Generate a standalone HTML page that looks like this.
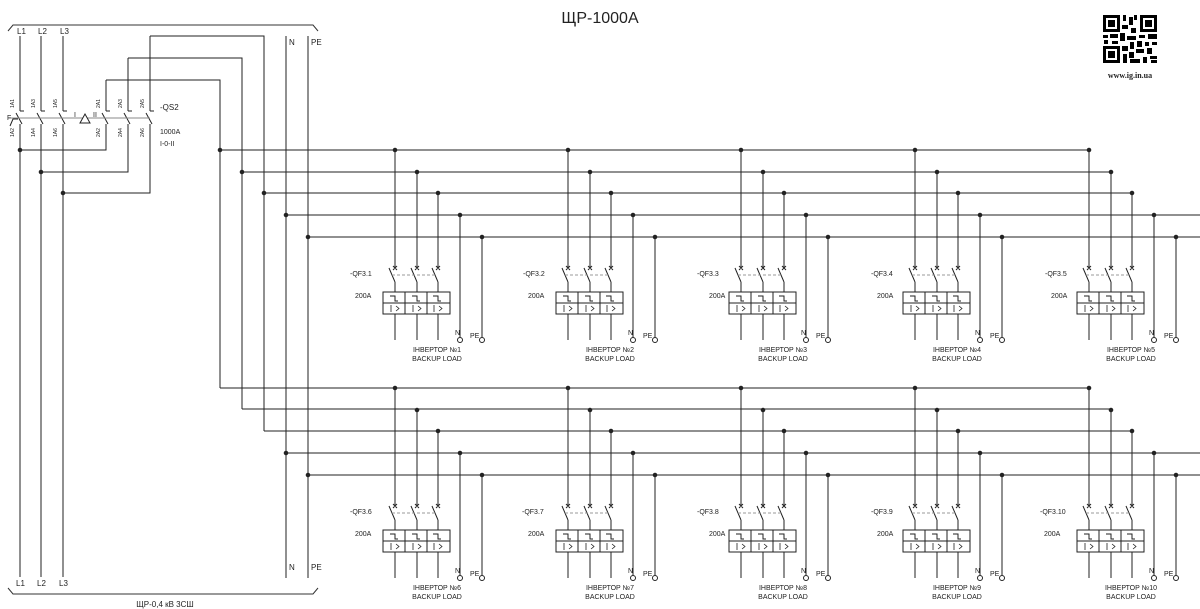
<!DOCTYPE html>
<html><head><meta charset="utf-8"><style>
body{margin:0;background:#fff}
svg{display:block}
text{font-family:"Liberation Sans",sans-serif;fill:#222}
</style></head><body>
<svg width="1200" height="609" viewBox="0 0 1200 609" xmlns="http://www.w3.org/2000/svg">
<defs>
<g id="grp" stroke="#222" stroke-width="1" fill="none">
  <line x1="0" y1="150" x2="0" y2="267"/>
  <line x1="22" y1="172" x2="22" y2="267"/>
  <line x1="43" y1="193" x2="43" y2="267"/>
  <line x1="65" y1="215" x2="65" y2="337"/>
  <line x1="87" y1="237" x2="87" y2="337"/>
  <circle cx="0" cy="150" r="1.8" fill="#222"/>
  <circle cx="22" cy="172" r="1.8" fill="#222"/>
  <circle cx="43" cy="193" r="1.8" fill="#222"/>
  <circle cx="65" cy="215" r="1.8" fill="#222"/>
  <circle cx="87" cy="237" r="1.8" fill="#222"/>
  <path d="M-2,266 l4,4 M2,266 l-4,4 M20,266 l4,4 M24,266 l-4,4 M41,266 l4,4 M45,266 l-4,4"/>
  <path d="M-6,268 L0,282 M16,268 L22,282 M37,268 L43,282"/>
  <line x1="-3" y1="275" x2="40" y2="275" stroke="#999" stroke-dasharray="3,2"/>
  <path d="M0,282 V292 M22,282 V292 M43,282 V292"/>
  <rect x="-12" y="292" width="67" height="22"/>
  <line x1="-12" y1="303" x2="55" y2="303"/>
  <line x1="10" y1="292" x2="10" y2="314"/>
  <line x1="32" y1="292" x2="32" y2="314"/>
  <path d="M-5,296 h5 v5 h3 M17,296 h5 v5 h3 M38,296 h5 v5 h3"/>
  <path d="M-4,305 v7 M1,306 l3,2.5 l-3,2.5 M18,305 v7 M23,306 l3,2.5 l-3,2.5 M39,305 v7 M44,306 l3,2.5 l-3,2.5" stroke-width="0.8"/>
  <path d="M0,314 V340 M22,314 V340 M43,314 V340"/>
  <circle cx="65" cy="340" r="2.5" fill="#fff"/>
  <circle cx="87" cy="340" r="2.5" fill="#fff"/>
</g>
</defs>

<!-- title -->
<text x="600" y="23" font-size="16" text-anchor="middle">ЩР-1000А</text>

<!-- brackets -->
<g stroke="#333" fill="none" stroke-width="1">
<path d="M8,31 L13,25 H313 L318,31"/>
<path d="M8,588 L13,594 H313 L318,588"/>
</g>
<text x="165" y="607" font-size="8" text-anchor="middle">ЩР-0,4 кВ 3СШ</text>

<!-- main verticals -->
<g stroke="#222" stroke-width="1" fill="none">
<line x1="20" y1="36" x2="20" y2="111"/><line x1="20" y1="111" x2="24" y2="111"/>
<line x1="41" y1="36" x2="41" y2="111"/><line x1="41" y1="111" x2="45" y2="111"/>
<line x1="63" y1="36" x2="63" y2="111"/><line x1="63" y1="111" x2="67" y2="111"/>
<line x1="106" y1="80" x2="106" y2="111"/><line x1="106" y1="111" x2="110" y2="111"/>
<line x1="128" y1="58" x2="128" y2="111"/><line x1="128" y1="111" x2="132" y2="111"/>
<line x1="150" y1="36" x2="150" y2="111"/><line x1="150" y1="111" x2="154" y2="111"/>
<path d="M16,113 L22,124 M37,113 L43,124 M59,113 L65,124 M102,113 L108,124 M124,113 L130,124 M146,113 L152,124"/>
<path d="M20,124 V577 M41,124 V577 M63,124 V577"/>
<path d="M106,124 V150 H20 M128,124 V172 H41 M150,124 V193 H63"/>
<line x1="8" y1="118" x2="150" y2="118" stroke="#888"/>
<path d="M80,123 L85,114 L90,123 Z" fill="#fff"/>
<path d="M10,126 L13,119 L18,119" />
<path d="M106,80 H220 V388 M128,58 H242 V409 M150,36 H264 V431"/>
<line x1="286" y1="36" x2="286" y2="578"/>
<line x1="308" y1="36" x2="308" y2="578"/>
<circle cx="20" cy="150" r="1.8" fill="#222"/>
<circle cx="41" cy="172" r="1.8" fill="#222"/>
<circle cx="63" cy="193" r="1.8" fill="#222"/>
<circle cx="220" cy="150" r="1.8" fill="#222"/>
<circle cx="242" cy="172" r="1.8" fill="#222"/>
<circle cx="264" cy="193" r="1.8" fill="#222"/>
<circle cx="286" cy="215" r="1.8" fill="#222"/>
<circle cx="308" cy="237" r="1.8" fill="#222"/>
<circle cx="286" cy="453" r="1.8" fill="#222"/>
<circle cx="308" cy="475" r="1.8" fill="#222"/>
<!-- buses top -->
<line x1="220" y1="150" x2="1089" y2="150"/>
<line x1="242" y1="172" x2="1111" y2="172"/>
<line x1="264" y1="193" x2="1133" y2="193"/>
<line x1="286" y1="215" x2="1200" y2="215"/>
<line x1="308" y1="237" x2="1200" y2="237"/>
<!-- buses bottom -->
<line x1="220" y1="388" x2="1089" y2="388"/>
<line x1="242" y1="409" x2="1111" y2="409"/>
<line x1="264" y1="431" x2="1133" y2="431"/>
<line x1="286" y1="453" x2="1200" y2="453"/>
<line x1="308" y1="475" x2="1200" y2="475"/>
</g>
<text x="74" y="117" font-size="7">I</text>
<text x="93" y="117" font-size="7">II</text>
<text x="7" y="120" font-size="7">F</text>

<g font-size="8">
<text x="17" y="34">L1</text><text x="38" y="34">L2</text><text x="60" y="34">L3</text>
<text x="16" y="586">L1</text><text x="37" y="586">L2</text><text x="59" y="586">L3</text>
<text x="289" y="45">N</text><text x="311" y="45">PE</text>
<text x="289" y="570">N</text><text x="311" y="570">PE</text>
<text x="160" y="110">-QS2</text>
<text x="160" y="134" font-size="7">1000A</text>
<text x="160" y="146" font-size="7">I-0-II</text>
</g>
<g font-size="5">
<text transform="translate(14,108) rotate(-90)">1A1</text>
<text transform="translate(35,108) rotate(-90)">1A3</text>
<text transform="translate(57,108) rotate(-90)">1A5</text>
<text transform="translate(100,108) rotate(-90)">2A1</text>
<text transform="translate(122,108) rotate(-90)">2A3</text>
<text transform="translate(144,108) rotate(-90)">2A5</text>
<text transform="translate(14,137) rotate(-90)">1A2</text>
<text transform="translate(35,137) rotate(-90)">1A4</text>
<text transform="translate(57,137) rotate(-90)">1A6</text>
<text transform="translate(100,137) rotate(-90)">2A2</text>
<text transform="translate(122,137) rotate(-90)">2A4</text>
<text transform="translate(144,137) rotate(-90)">2A6</text>
</g>

<!-- groups -->
<use href="#grp" x="395" y="0"/>
<use href="#grp" x="568" y="0"/>
<use href="#grp" x="741" y="0"/>
<use href="#grp" x="915" y="0"/>
<use href="#grp" x="1089" y="0"/>
<use href="#grp" x="395" y="238"/>
<use href="#grp" x="568" y="238"/>
<use href="#grp" x="741" y="238"/>
<use href="#grp" x="915" y="238"/>
<use href="#grp" x="1089" y="238"/>

<g font-size="7">
<text x="350" y="276">-QF3.1</text><text x="355" y="298">200A</text><text x="455" y="335">N</text><text x="470" y="338">PE</text>
<text x="437" y="352" text-anchor="middle">ІНВЕРТОР №1</text><text x="437" y="361" text-anchor="middle">BACKUP LOAD</text>
<text x="523" y="276">-QF3.2</text><text x="528" y="298">200A</text><text x="628" y="335">N</text><text x="643" y="338">PE</text>
<text x="610" y="352" text-anchor="middle">ІНВЕРТОР №2</text><text x="610" y="361" text-anchor="middle">BACKUP LOAD</text>
<text x="697" y="276">-QF3.3</text><text x="709" y="298">200A</text><text x="801" y="335">N</text><text x="816" y="338">PE</text>
<text x="783" y="352" text-anchor="middle">ІНВЕРТОР №3</text><text x="783" y="361" text-anchor="middle">BACKUP LOAD</text>
<text x="871" y="276">-QF3.4</text><text x="877" y="298">200A</text><text x="975" y="335">N</text><text x="990" y="338">PE</text>
<text x="957" y="352" text-anchor="middle">ІНВЕРТОР №4</text><text x="957" y="361" text-anchor="middle">BACKUP LOAD</text>
<text x="1045" y="276">-QF3.5</text><text x="1051" y="298">200A</text><text x="1149" y="335">N</text><text x="1164" y="338">PE</text>
<text x="1131" y="352" text-anchor="middle">ІНВЕРТОР №5</text><text x="1131" y="361" text-anchor="middle">BACKUP LOAD</text>

<text x="350" y="514">-QF3.6</text><text x="355" y="536">200A</text><text x="455" y="573">N</text><text x="470" y="576">PE</text>
<text x="437" y="590" text-anchor="middle">ІНВЕРТОР №6</text><text x="437" y="599" text-anchor="middle">BACKUP LOAD</text>
<text x="522" y="514">-QF3.7</text><text x="528" y="536">200A</text><text x="628" y="573">N</text><text x="643" y="576">PE</text>
<text x="610" y="590" text-anchor="middle">ІНВЕРТОР №7</text><text x="610" y="599" text-anchor="middle">BACKUP LOAD</text>
<text x="697" y="514">-QF3.8</text><text x="709" y="536">200A</text><text x="801" y="573">N</text><text x="816" y="576">PE</text>
<text x="783" y="590" text-anchor="middle">ІНВЕРТОР №8</text><text x="783" y="599" text-anchor="middle">BACKUP LOAD</text>
<text x="871" y="514">-QF3.9</text><text x="877" y="536">200A</text><text x="975" y="573">N</text><text x="990" y="576">PE</text>
<text x="957" y="590" text-anchor="middle">ІНВЕРТОР №9</text><text x="957" y="599" text-anchor="middle">BACKUP LOAD</text>
<text x="1040" y="514">-QF3.10</text><text x="1044" y="536">200A</text><text x="1149" y="573">N</text><text x="1164" y="576">PE</text>
<text x="1131" y="590" text-anchor="middle">ІНВЕРТОР №10</text><text x="1131" y="599" text-anchor="middle">BACKUP LOAD</text>
</g>

<!-- QR -->
<g fill="#000">
<rect x="1103" y="15" width="17" height="17"/><rect x="1106" y="18" width="11" height="11" fill="#fff"/><rect x="1108" y="20" width="7" height="7"/>
<rect x="1140" y="15" width="17" height="17"/><rect x="1143" y="18" width="11" height="11" fill="#fff"/><rect x="1145" y="20" width="7" height="7"/>
<rect x="1103" y="46" width="17" height="17"/><rect x="1106" y="49" width="11" height="11" fill="#fff"/><rect x="1108" y="51" width="7" height="7"/>
<rect x="1123" y="15" width="3" height="6"/><rect x="1129" y="17" width="4" height="8"/><rect x="1134" y="15" width="3" height="5"/>
<rect x="1122" y="25" width="6" height="4"/><rect x="1131" y="28" width="5" height="5"/>
<rect x="1103" y="35" width="5" height="3"/><rect x="1110" y="34" width="8" height="4"/><rect x="1120" y="33" width="5" height="8"/>
<rect x="1127" y="36" width="9" height="4"/><rect x="1139" y="35" width="6" height="3"/><rect x="1148" y="34" width="9" height="5"/>
<rect x="1104" y="40" width="4" height="4"/><rect x="1112" y="41" width="6" height="3"/><rect x="1130" y="42" width="4" height="7"/>
<rect x="1137" y="41" width="5" height="6"/><rect x="1145" y="42" width="4" height="4"/><rect x="1152" y="42" width="5" height="3"/>
<rect x="1122" y="46" width="6" height="5"/><rect x="1136" y="49" width="8" height="4"/><rect x="1147" y="48" width="5" height="6"/>
<rect x="1123" y="54" width="4" height="9"/><rect x="1129" y="52" width="5" height="6"/><rect x="1130" y="59" width="10" height="4"/>
<rect x="1143" y="57" width="4" height="6"/><rect x="1150" y="56" width="7" height="3"/><rect x="1151" y="60" width="6" height="3"/>
</g>
<text x="1130" y="78" font-size="8" text-anchor="middle" font-weight="bold" style="font-family:'Liberation Serif',serif">www.ig.in.ua</text>
</svg>
</body></html>
